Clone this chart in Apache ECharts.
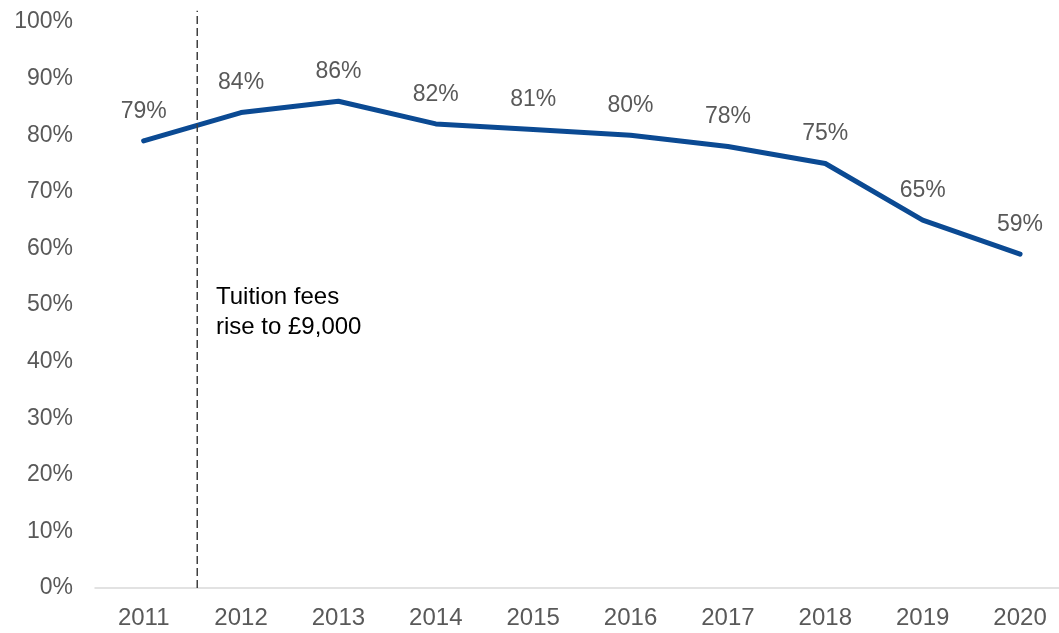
<!DOCTYPE html>
<html>
<head>
<meta charset="utf-8">
<script src="https://cdn.jsdelivr.net/npm/echarts@6/dist/echarts.min.js"></script>
<style>html,body{margin:0;padding:0;background:#fff}#c{width:1059px;height:633px}</style>
</head>
<body>
<div id="c"></div>
<script>
const years = ['2011','2012','2013','2014','2015','2016','2017','2018','2019','2020'];
const shares = [79, 84, 86, 82, 81, 80, 78, 75, 65, 59];
const yTicks = [0, 10, 20, 30, 40, 50, 60, 70, 80, 90, 100];
const feeRiseX = 0.55;      // position between 2011 and 2012 (index scale)
const feeRiseTop = 102;
const annotation = ['Tuition fees', 'rise to £9,000'];

const FONT = '"Liberation Sans", Arial, sans-serif';
const yearIdx = years.map((_, i) => i);
const lineData = shares.map((v, i) => [i, v]);

const chart = echarts.init(document.getElementById('c'));
chart.setOption({
  animation: false,
  grid: { left: 95, top: 22, right: 0, bottom: 45, containLabel: false },
  xAxis: {
    type: 'value', min: -0.5, max: 9.4,
    splitLine: { show: false },
    axisLine: { show: true, onZero: false, lineStyle: { color: '#d9d9d9', width: 1.5 } },
    axisTick: { show: false },
    axisLabel: {
      customValues: yearIdx, showMinLabel: true, showMaxLabel: true,
      formatter: v => years[Math.round(v)] || '',
      color: '#595959', fontSize: 24, fontFamily: FONT, margin: 18
    }
  },
  yAxis: {
    type: 'value', min: yTicks[0], max: yTicks[yTicks.length - 1], interval: 10,
    axisLine: { show: false }, axisTick: { show: false }, splitLine: { show: false },
    axisLabel: { color: '#595959', fontSize: 23, fontFamily: FONT, margin: 22, formatter: '{value}%' }
  },
  series: [{
    type: 'line', data: lineData,
    lineStyle: { color: '#0b4a93', width: 5, cap: 'round', join: 'round' },
    symbol: 'circle', symbolSize: 4, showSymbol: true,
    itemStyle: { color: '#0b4a93' },
    label: { show: true, position: 'top', distance: 16, color: '#595959', fontSize: 23, fontFamily: FONT,
             formatter: p => p.value[1] + '%' }
  }, {
    type: 'line', clip: false, symbol: 'none', silent: true,
    data: [[feeRiseX, 0], [feeRiseX, feeRiseTop]],
    lineStyle: { color: '#404040', width: 1.5, type: [8, 4] }
  }],
  graphic: [{
    type: 'text', left: 216, top: 282,
    style: { text: annotation.join('\n'), font: '24px ' + FONT, fill: '#000', lineHeight: 30 }
  }]
});
</script>
</body>
</html>
